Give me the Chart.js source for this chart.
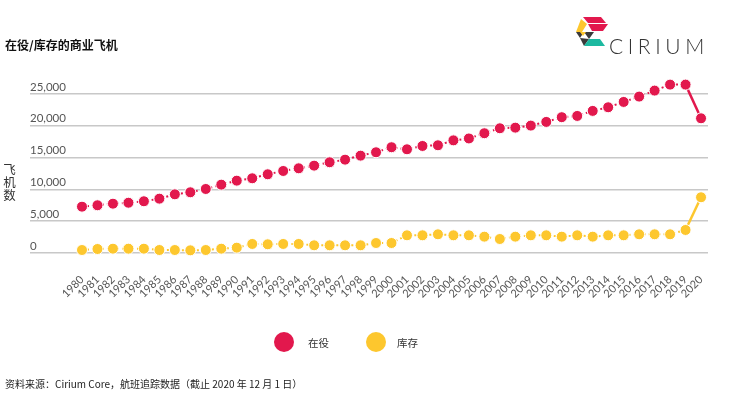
<!DOCTYPE html>
<html><head><meta charset="utf-8">
<script src="https://cdn.jsdelivr.net/npm/chart.js@4.4.1/dist/chart.umd.min.js"></script>
<style>
html,body{margin:0;padding:0;background:#fff;}
#wrap{position:relative;width:741px;height:395px;overflow:hidden;font-family:"Noto Sans CJK SC","Noto Sans",sans-serif;}
#c{position:absolute;left:0;top:0;}
.abs{position:absolute;white-space:nowrap;}
#title{left:5px;top:36px;font-size:12px;font-weight:700;color:#111;}
#ytitle{left:3px;top:163px;font-size:12.5px;color:#333;writing-mode:vertical-rl;text-orientation:upright;line-height:13px;letter-spacing:0.5px;}
#source{left:5px;top:376px;font-size:10px;color:#222;}
#logoText{left:609px;top:33px;font-family:Lato,sans-serif;font-weight:300;font-size:21px;letter-spacing:4.6px;color:#333;}
.leg{position:absolute;top:332px;width:20px;height:20px;border-radius:50%;}
.legt{position:absolute;top:335px;font-size:10.5px;color:#333;}
</style></head>
<body><div id="wrap">
<canvas id="c" width="741" height="395"></canvas>
<div id="title" class="abs">在役/库存的商业飞机</div>
<div id="ytitle" class="abs">飞机数</div>
<div id="source" class="abs">资料来源：Cirium Core，航班追踪数据（截止 2020 年 12 月 1 日）</div>
<svg class="abs" style="left:574px;top:16px" width="36" height="33" viewBox="0 0 36 33">
  <polygon points="9,1 27,1 32,7 14,7" fill="#E2184D"/>
  <polygon points="14,8 34,8 29,15 18,15" fill="#E2184D"/>
  <polygon points="7,3 13,8 8,16 2,16" fill="#FDC72E"/>
  <polygon points="2,16 10,16 6,22" fill="#3a3a3a"/>
  <polygon points="10,16 20,16 15,23" fill="#3a3a3a"/>
  <polygon points="6,16 12,16 9,20" fill="#FDC72E"/>
  <polygon points="6,22 15,23 10,30" fill="#3a3a3a"/>
  <polygon points="15,23 26,23 31,30 10,30" fill="#1DB9A0"/>
</svg>
<div id="logoText" class="abs">CIRIUM</div>
<div id="legend"></div>
</div>
<script>
const years = [1980,1981,1982,1983,1984,1985,1986,1987,1988,1989,1990,1991,1992,1993,1994,1995,1996,1997,1998,1999,2000,2001,2002,2003,2004,2005,2006,2007,2008,2009,2010,2011,2012,2013,2014,2015,2016,2017,2018,2019,2020];
const inService = [7280,7500,7750,7900,8130,8540,9220,9540,10060,10740,11370,11740,12370,12890,13310,13730,14260,14670,15300,15830,16620,16300,16820,16930,17700,18000,18820,19600,19700,20020,20600,21340,21540,22330,22900,23740,24580,25520,26460,26460,21170];
const stored = [470,630,680,680,680,470,470,420,470,680,840,1420,1370,1420,1420,1210,1210,1210,1210,1570,1570,2780,2780,2940,2780,2780,2570,2200,2570,2780,2780,2570,2780,2570,2780,2780,2940,2940,2940,3620,8760];
const yTicks = [0,5000,10000,15000,20000,25000];
const seriesNames = ['在役','库存'];
const seriesColors = ['#E2184D','#FDC72E'];

const lastIdx = years.length - 1;
function makeDs(name, vals, color){
  return {
    label: name,
    data: years.map((y,i)=>({x:y,y:vals[i]})),
    borderColor: color,
    backgroundColor: color,
    pointBackgroundColor: color,
    pointBorderColor: '#fff',
    pointBorderWidth: 1,
    pointRadius: 5.5,
    pointHoverRadius: 5.5,
    borderWidth: 2,
    tension: 0,
    clip: false,
    segment: {
      borderDash: ctx => ctx.p1DataIndex === lastIdx ? [] : [2,3],
      borderWidth: ctx => ctx.p1DataIndex === lastIdx ? 2.5 : 2
    }
  };
}

// HTML legend
const legPos = [[274,308],[366,397]];
const legEl = document.getElementById('legend');
seriesNames.forEach((n,i)=>{
  const d=document.createElement('div'); d.className='leg'; d.style.left=legPos[i][0]+'px'; d.style.background=seriesColors[i]; legEl.appendChild(d);
  const t=document.createElement('div'); t.className='legt'; t.style.left=legPos[i][1]+'px'; t.textContent=n; legEl.appendChild(t);
});

new Chart(document.getElementById('c'), {
  type: 'line',
  data: { datasets: [ makeDs(seriesNames[0], inService, seriesColors[0]), makeDs(seriesNames[1], stored, seriesColors[1]) ] },
  options: {
    responsive: false,
    animation: false,
    layout: { padding: { left: 30, right: 33, top: 78, bottom: 82 } },
    plugins: { legend: { display: false }, tooltip: { enabled: false } },
    scales: {
      x: {
        type: 'linear',
        min: 1976.64, max: 2020.45,
        afterBuildTicks: s => { s.ticks = years.map(v=>({value:v})); },
        afterFit: s => { s.height = 60; },
        grid: { display: false, drawTicks: false },
        border: { display: false },
        ticks: {
          autoSkip: false, minRotation: 45, maxRotation: 45, padding: 20,
          color: '#555', font: { family: 'Lato', size: 11 },
          callback: v => String(v)
        }
      },
      y: {
        min: 0, max: 27500,
        afterBuildTicks: s => { s.ticks = yTicks.map(v=>({value:v})); },
        afterFit: s => { s.width = 0; },
        grid: { color: '#c8c8c8', lineWidth: 1.5, drawTicks: false },
        border: { display: false },
        ticks: {
          mirror: true, padding: 0, labelOffset: -7,
          color: '#555', font: { family: 'Lato', size: 11.5 },
          callback: v => v.toLocaleString('en-US')
        }
      }
    }
  }
});
</script>
</body></html>
